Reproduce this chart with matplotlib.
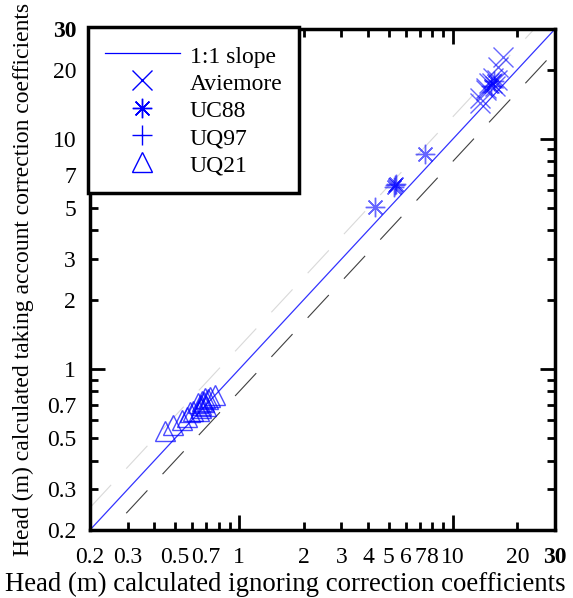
import numpy as np
import matplotlib
matplotlib.use("Agg")
import matplotlib.pyplot as plt

plt.rcParams['font.family'] = ['Liberation Serif', 'DejaVu Serif']
plt.rcParams['font.size'] = 17

# data
avie_x = [17.1, 16.2, 15.4, 15.2, 14.8, 14.3, 14.3, 13.4, 13.4, 15.8, 16.0]
avie_y = [22.6, 20.5, 18.4, 17.5, 17.5, 16.6, 16.3, 15.0, 14.3, 17.0, 18.0]
uc88_x = [4.3, 5.3, 5.4, 5.35, 7.4, 15.0, 15.6]
uc88_y = [5.05, 6.2, 6.35, 6.3, 8.6, 17.0, 17.8]
uq97_x = []
uq97_y = []
uq21_x = [0.449, 0.489, 0.54, 0.568, 0.59, 0.61, 0.64, 0.66, 0.67, 0.69, 0.73, 0.77,
          0.66, 0.68, 0.70, 0.65, 0.71]
uq21_y = [0.54, 0.57, 0.60, 0.62, 0.65, 0.66, 0.71, 0.68, 0.73, 0.75, 0.76, 0.77,
          0.70, 0.72, 0.69, 0.66, 0.74]

xlabs = {0.2: '0.2', 0.3: '0.3', 0.5: '0.5', 0.7: '0.7', 1: '1', 2: '2', 3: '3', 4: '4',
         5: '5', 6: '6', 7: '7', 8: '8', 10: '10', 20: '20', 30: '30'}
ylabs = {0.2: '0.2', 0.3: '0.3', 0.5: '0.5', 0.7: '0.7', 1: '1', 2: '2', 3: '3',
         5: '5', 7: '7', 10: '10', 20: '20', 30: '30'}

blue = (0, 0, 1)
fig = plt.figure(figsize=(5.73, 5.98), dpi=100)
ax = fig.add_axes([0.157, 0.1137, 0.8116, 0.8378])
ax.set_xscale('log')
ax.set_yscale('log')
lo, hi = 0.2, 30
ax.set_xlim(lo, hi)
ax.set_ylim(lo, hi)

ref = np.array([lo, hi])
ax.plot(ref, ref * 1.25, color='0.85', lw=0.8, dashes=(28, 20))
ax.plot(ref, ref * 0.8, color='0.25', lw=0.8, dashes=(28, 20))
ax.plot(ref, ref, color=blue, lw=0.9, alpha=0.8, label='1:1 slope')

ax.plot(avie_x, avie_y, ls='none', marker='x', ms=14, mew=1, color=blue, alpha=0.6,
        label='Aviemore')
ax.plot(uc88_x, uc88_y, ls='none', marker=(8, 2, 0), ms=14, mew=1, color=blue, alpha=0.6,
        label='UC88')
ax.plot(uq97_x, uq97_y, ls='none', marker='+', ms=14, mew=1, color=blue, alpha=0.6,
        label='UQ97')
ax.plot(uq21_x, uq21_y, ls='none', marker='^', ms=14, mew=1, mfc='none', mec=blue,
        alpha=0.7, label='UQ21')

# ticks: decades long, others short, selected ones labelled
minor = [v for d in (0.1, 1, 10) for v in np.arange(2, 10) * d if lo <= v <= hi + 1e-9]
for axis, labs in ((ax.xaxis, xlabs), (ax.yaxis, ylabs)):
    axis.set_major_locator(matplotlib.ticker.FixedLocator([1, 10]))
    axis.set_major_formatter(matplotlib.ticker.FixedFormatter(['1', '10']))
    axis.set_minor_locator(matplotlib.ticker.FixedLocator(minor))
    axis.set_minor_formatter(matplotlib.ticker.FixedFormatter(
        [labs.get(round(v, 3), '') for v in minor]))
ax.tick_params(which='both', direction='in', top=True, right=True, width=2,
               labelsize=17)
ax.tick_params(axis='x', which='both', pad=12)
ax.tick_params(axis='y', which='both', pad=10)
ax.tick_params(which='major', length=11)
ax.tick_params(which='minor', length=6)
for lab in ax.get_xminorticklabels() + ax.get_yminorticklabels():
    if lab.get_text() == '30':
        lab.set_fontweight('bold')
for s in ax.spines.values():
    s.set_linewidth(2.5)

ax.set_xlabel('Head (m) calculated ignoring correction coefficients', fontsize=19.3)
ax.xaxis.set_label_coords(0.419, -0.083)
ax.set_ylabel('Head (m) calculated taking account correction coefficients', fontsize=17,
              labelpad=9)

leg = ax.legend(loc='upper left', bbox_to_anchor=(-0.004, 1.004), fancybox=False,
                edgecolor='black', framealpha=1, handlelength=3.2, handletextpad=0.4,
                handleheight=1.15, borderaxespad=0, borderpad=0.7,
                labelspacing=0.1, fontsize=17)
leg.get_frame().set_linewidth(2.5)
for h in leg.legend_handles:
    h.set_alpha(1)

fig.savefig('out.png', dpi=100)
